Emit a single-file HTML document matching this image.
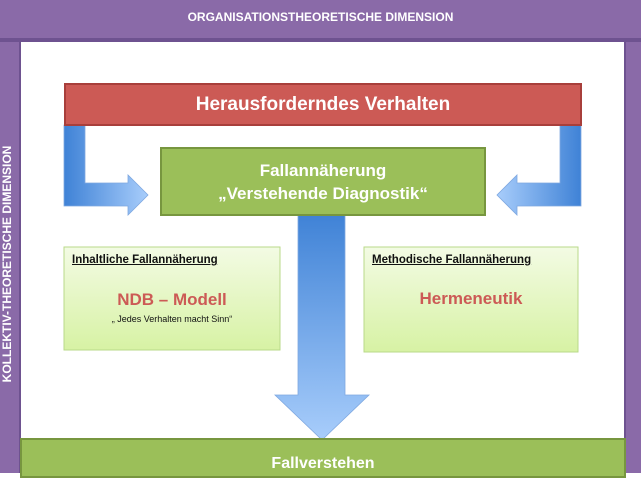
<!DOCTYPE html>
<html><head><meta charset="utf-8"><style>
body{margin:0;width:641px;height:473px;overflow:hidden;background:#fff;font-family:"Liberation Sans",sans-serif;position:relative}
div{position:absolute;box-sizing:border-box}
.c{display:flex;align-items:center;justify-content:center;color:#fff;font-weight:bold}
</style></head><body>
<div style="left:0;top:0;width:641px;height:473px;background:#8a6aa8"></div>
<div style="left:0;top:38px;width:641px;height:4px;background:#6e5290"></div>
<div style="left:19px;top:40px;width:3px;height:433px;background:#6e5290"></div>
<div style="left:623px;top:40px;width:3px;height:433px;background:#6e5290"></div>
<div style="left:21px;top:42px;width:603px;height:400px;background:#fff"></div>
<div class="c" style="left:0;top:0;width:641px;height:34px;font-size:12px">ORGANISATIONSTHEORETISCHE DIMENSION</div>
<div class="c" style="left:-128px;top:256px;width:270px;height:16px;font-size:12px;transform:rotate(-90deg)">KOLLEKTIV-THEORETISCHE DIMENSION</div>

<svg style="position:absolute;left:0;top:0" width="641" height="473">
<defs>
<linearGradient id="gh" x1="0" x2="1" y1="0" y2="0"><stop offset="0" stop-color="#3f82d6"/><stop offset="1" stop-color="#a8cdfb"/></linearGradient>
<linearGradient id="gh2" x1="1" x2="0" y1="0" y2="0"><stop offset="0" stop-color="#3f82d6"/><stop offset="1" stop-color="#a8cdfb"/></linearGradient>
<linearGradient id="gv" x1="0" x2="0" y1="0" y2="1"><stop offset="0" stop-color="#3f82d6"/><stop offset="1" stop-color="#a8cdfb"/></linearGradient>
<linearGradient id="gb" x1="0" x2="0" y1="0" y2="1"><stop offset="0" stop-color="#f3fbe4"/><stop offset="1" stop-color="#d7f2a4"/></linearGradient>
</defs>
<path d="M64 125 H85 V183 H128 V175 L148 195 L128 215 V206 H64 Z" fill="url(#gh)" stroke="#7fa8e0" stroke-width="0.8"/>
<path d="M581 125 H560 V183 H517 V175 L497 195 L517 215 V206 H581 Z" fill="url(#gh2)" stroke="#7fa8e0" stroke-width="0.8"/>
<path d="M298 213 H345 V395 H369 L322 440 L275 395 H298 Z" fill="url(#gv)" stroke="#7fa8e0" stroke-width="0.8"/>
<rect x="64" y="247" width="216" height="103" fill="url(#gb)" stroke="#b9d98a"/>
<rect x="364" y="247" width="214" height="105" fill="url(#gb)" stroke="#b9d98a"/>
</svg>

<div class="c" style="left:64px;top:83px;width:518px;height:43px;background:#cc5a55;border:2px solid #a83f3b;font-size:19px">Herausforderndes Verhalten</div>
<div class="c" style="left:160px;top:147px;width:326px;height:69px;background:#9bbf59;border:2px solid #77963f;font-size:17px;flex-direction:column;line-height:23px"><div style="position:static">Fallannäherung</div><div style="position:static">„Verstehende Diagnostik“</div></div>

<div style="left:72px;top:254px;font-size:11.5px;font-weight:bold;text-decoration:underline;color:#111">Inhaltliche Fallannäherung</div>
<div style="left:64px;top:290px;width:216px;text-align:center;font-size:17px;font-weight:bold;color:#cc5a55">NDB – Modell</div>
<div style="left:64px;top:314px;width:216px;text-align:center;font-size:9px;color:#111">„ Jedes Verhalten macht Sinn“</div>
<div style="left:372px;top:254px;font-size:11.5px;font-weight:bold;text-decoration:underline;color:#111">Methodische Fallannäherung</div>
<div style="left:364px;top:289px;width:214px;text-align:center;font-size:17px;font-weight:bold;color:#cc5a55">Hermeneutik</div>

<div class="c" style="left:20px;top:438px;width:606px;height:40px;background:#9bbf59;border:2px solid #77963f;font-size:16px;align-items:flex-start;padding-top:15px">Fallverstehen</div>
</body></html>
